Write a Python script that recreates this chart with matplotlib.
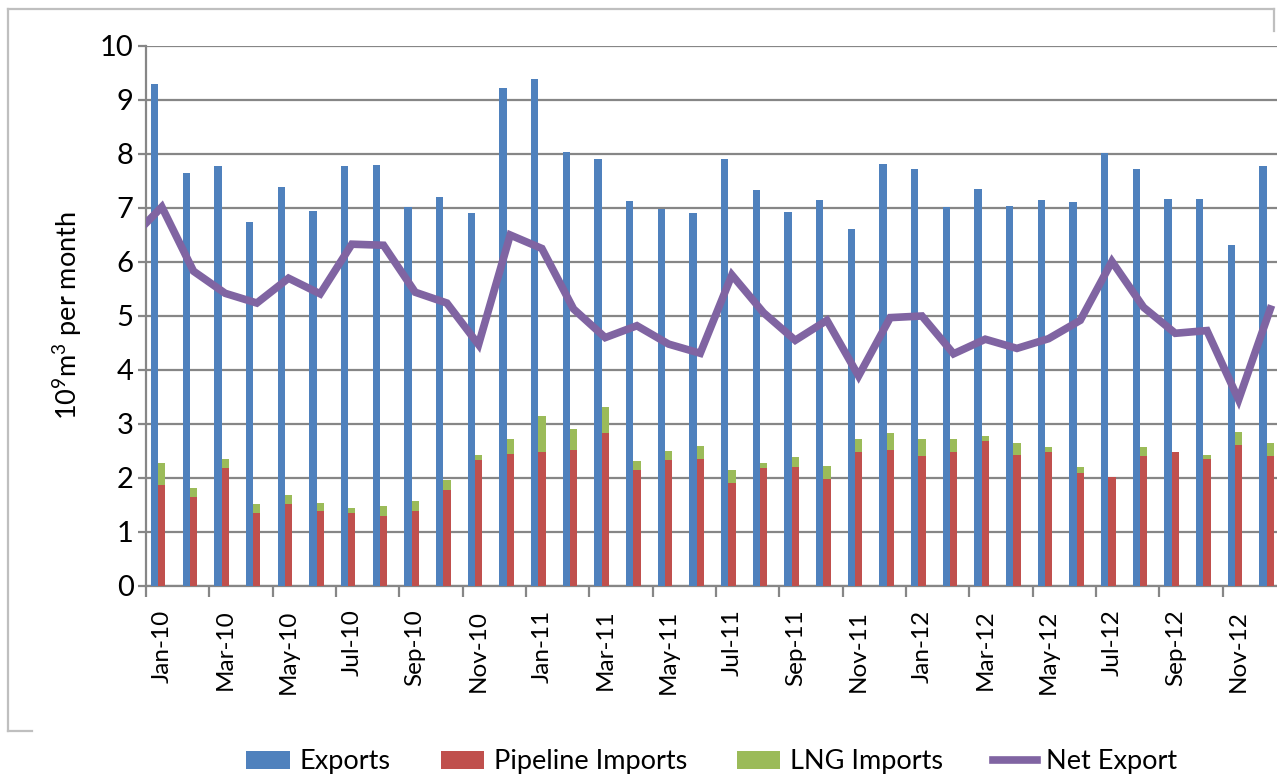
import matplotlib
matplotlib.use("Agg")
import matplotlib.pyplot as plt
from matplotlib.lines import Line2D
import numpy as np

plt.rcParams['font.family'] = ['Lato', 'DejaVu Sans']
plt.rcParams['mathtext.fontset'] = 'custom'
plt.rcParams['mathtext.rm'] = 'Lato'
plt.rcParams['mathtext.default'] = 'regular'

months = ["Jan-10", "Feb-10", "Mar-10", "Apr-10", "May-10", "Jun-10", "Jul-10", "Aug-10",
          "Sep-10", "Oct-10", "Nov-10", "Dec-10",
          "Jan-11", "Feb-11", "Mar-11", "Apr-11", "May-11", "Jun-11", "Jul-11", "Aug-11",
          "Sep-11", "Oct-11", "Nov-11", "Dec-11",
          "Jan-12", "Feb-12", "Mar-12", "Apr-12", "May-12", "Jun-12", "Jul-12", "Aug-12",
          "Sep-12", "Oct-12", "Nov-12", "Dec-12"]

exports = [9.30, 7.64, 7.77, 6.75, 7.38, 6.95, 7.78, 7.80, 7.01, 7.20, 6.90, 9.23,
           9.39, 8.04, 7.91, 7.13, 6.98, 6.90, 7.91, 7.33, 6.93, 7.14, 6.62, 7.81,
           7.73, 7.02, 7.35, 7.04, 7.15, 7.12, 8.02, 7.73, 7.17, 7.16, 6.31, 7.78]

pipeline_imports = [1.87, 1.64, 2.19, 1.35, 1.51, 1.38, 1.36, 1.30, 1.38, 1.77, 2.33, 2.44,
                    2.49, 2.52, 2.83, 2.15, 2.33, 2.35, 1.90, 2.19, 2.21, 1.98, 2.48, 2.51,
                    2.41, 2.48, 2.69, 2.43, 2.48, 2.10, 2.01, 2.40, 2.49, 2.35, 2.61, 2.40]

lng_imports = [0.41, 0.17, 0.16, 0.16, 0.17, 0.16, 0.09, 0.19, 0.19, 0.19, 0.10, 0.29,
               0.65, 0.39, 0.48, 0.16, 0.17, 0.24, 0.25, 0.08, 0.17, 0.24, 0.25, 0.33,
               0.32, 0.24, 0.09, 0.21, 0.09, 0.10, 0.00, 0.17, 0.00, 0.08, 0.25, 0.25]

# Net export line; the first value (Dec-09) lies left of the axis and is clipped
net_export_months = ["Dec-09"] + months
net_export = [6.42,
              7.02, 5.83, 5.42, 5.24, 5.70, 5.41, 6.33, 6.31, 5.44, 5.24, 4.47, 6.50,
              6.25, 5.13, 4.60, 4.82, 4.48, 4.31, 5.76, 5.06, 4.55, 4.92, 3.89, 4.97,
              5.00, 4.30, 4.57, 4.40, 4.58, 4.92, 6.01, 5.16, 4.68, 4.73, 3.45, 5.13]

C_BLUE = "#4F81BD"
C_RED = "#C0504D"
C_GREEN = "#9BBB59"
C_PURPLE = "#8064A2"
C_GRID = "#868686"

W, H = 1277, 778
fig = plt.figure(figsize=(W / 100, H / 100), dpi=100)

cat_w = 31.67
ax_left_px = 146
ax_w_px = cat_w * len(months)
ax = fig.add_axes([ax_left_px / W, (H - 586) / H, ax_w_px / W, 540 / H])

x = np.arange(len(months))
bw = 0.23
ax.bar(x - bw, exports, width=bw, color=C_BLUE, zorder=3, label="Exports")
ax.bar(x, pipeline_imports, width=bw, color=C_RED, zorder=3, label="Pipeline Imports")
ax.bar(x, lng_imports, width=bw, bottom=pipeline_imports, color=C_GREEN, zorder=3,
       label="LNG Imports")
xl = np.arange(-1, len(months))
ax.plot(xl, net_export, color=C_PURPLE, lw=5.5, zorder=4, solid_joinstyle='miter',
        label="Net Export")

ax.set_xlim(-0.5, len(months) - 0.5)
ax.set_ylim(0, 10)
ax.set_yticks(np.arange(0, 11, 1))
ax.yaxis.grid(True, color=C_GRID, lw=1.6, zorder=0)
ax.set_axisbelow(True)

for s in ["top", "right"]:
    ax.spines[s].set_visible(False)
for s in ["left", "bottom"]:
    ax.spines[s].set_color(C_GRID)
    ax.spines[s].set_linewidth(1.6)

ax.tick_params(axis='y', length=6, width=1.6, color=C_GRID, labelsize=21, pad=3)
ax.set_xticks(x[::2])
ax.set_xticklabels(months[::2], rotation=90, fontsize=17.5)
ax.set_xticks(np.arange(-0.5, len(months), 2), minor=True)
ax.tick_params(axis='x', which='major', length=0, pad=17)
ax.tick_params(axis='x', which='minor', length=8, width=1.6, color=C_GRID)

ax.set_ylabel("10$^{9}$m$^{3}$ per month", fontsize=19.5)
ax.yaxis.set_label_coords((84 - ax_left_px) / ax_w_px, 0.5)

handles, labels = ax.get_legend_handles_labels()
order = [1, 2, 3, 0]
leg = fig.legend([handles[i] for i in order], [labels[i] for i in order],
                 loc='center', bbox_to_anchor=(712 / W, (H - 762) / H), ncol=4,
                 frameon=False, fontsize=19.5, handlelength=1.6, handleheight=0.6,
                 handletextpad=0.36, columnspacing=1.85)

# partial outer chart frame
fc = "#BFBFBF"
def fline(xs, ys):
    fig.add_artist(Line2D([v / W for v in xs], [1 - v / H for v in ys], color=fc, lw=1.6,
                          transform=fig.transFigure))
fline([8, 1274], [8.5, 8.5])
fline([1274, 1274], [8.5, 31])
fline([8, 8], [8.5, 731])
fline([8, 32], [731, 731])

fig.savefig("out.png", dpi=100)
